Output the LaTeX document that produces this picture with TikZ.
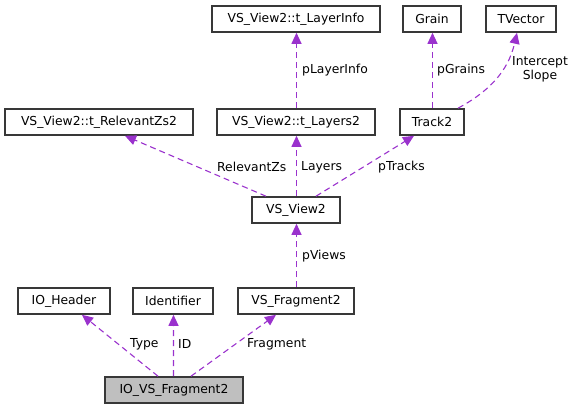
\documentclass[tikz,border=0pt]{standalone}
\usepackage{fontspec}
\setmainfont{DejaVu Sans}
\usetikzlibrary{arrows.meta}
\definecolor{edgec}{HTML}{9A32CD}
\definecolor{boxline}{HTML}{383838}
\definecolor{fillg}{HTML}{BFBFBF}
\begin{document}
\begin{tikzpicture}[x=1bp,y=-1bp,
  box/.style={draw=boxline,line width=1.6bp,rectangle,minimum height=26bp,inner sep=0pt,font=\fontsize{12.4}{14}\selectfont},
  rel/.style={draw=edgec,line width=1.1bp,dash pattern=on 6bp off 4bp,-{Triangle[length=11bp,width=10bp]}},
  lab/.style={anchor=west,inner sep=0pt,font=\fontsize{12.4}{14}\selectfont}]
\useasboundingbox (0,0) rectangle (575,409);
% row 1
\node[box,minimum width=168bp] (linfo) at (296,19) {VS\_View2::t\_LayerInfo};
\node[box,minimum width=58bp] (grain) at (432,19) {Grain};
\node[box,minimum width=70bp] (tvec) at (521,19) {TVector};
% row 2
\node[box,minimum width=188bp] (relz) at (99,122) {VS\_View2::t\_RelevantZs2};
\node[box,minimum width=158bp] (layers) at (296,122) {VS\_View2::t\_Layers2};
\node[box,minimum width=64bp] (track) at (432,122) {Track2};
% row 3
\node[box,minimum width=88bp] (view) at (296,210) {VS\_View2};
% row 4
\node[box,minimum width=92bp] (ioh) at (64,301) {IO\_Header};
\node[box,minimum width=80bp] (ident) at (173,301) {Identifier};
\node[box,minimum width=116bp] (frag) at (296,301) {VS\_Fragment2};
% row 5
\node[box,fill=fillg,minimum width=138bp] (iovs) at (174,390) {IO\_VS\_Fragment2};
% edges
\draw[rel] ([xshift=-16bp]iovs.north) -- ([xshift=18bp]ioh.south);
\draw[rel] ([xshift=-0.5bp]iovs.north) -- ([xshift=0.5bp]ident.south);
\draw[rel] ([xshift=17bp]iovs.north) -- ([xshift=-20bp]frag.south);
\draw[rel] ([xshift=0.5bp]frag.north) -- ([xshift=0.5bp]view.south);
\draw[rel] ([xshift=-30bp]view.north) -- ([xshift=26bp]relz.south);
\draw[rel] ([xshift=0.5bp]view.north) -- ([xshift=0.5bp]layers.south);
\draw[rel] ([xshift=20bp]view.north) -- ([xshift=-18bp]track.south);
\draw[rel] ([xshift=0.5bp]layers.north) -- ([xshift=0.5bp]linfo.south);
\draw[rel] ([xshift=0.5bp]track.north) -- ([xshift=0.5bp]grain.south);
\draw[rel] ([xshift=26bp]track.north) .. controls (488,92) and (508,72) .. ([xshift=-4bp]tvec.south);
% labels
\node[lab] (l1) at (302,70) {pLayerInfo};
\node[lab] (l2) at (437,70) {pGrains};
\node[inner sep=0pt,align=center,font=\fontsize{12.4}{14.5}\selectfont] (l3) at (540,69) {Intercept\\Slope};
\node[lab] (l4) at (217,167) {RelevantZs};
\node[lab] (l5) at (301,167) {Layers};
\node[lab] (l6) at (378,167) {pTracks};
\node[lab] (l7) at (302,256) {pViews};
\node[lab] (l8) at (130,344) {Type};
\node[lab] (l9) at (178,344) {ID};
\node[lab] (l10) at (247,344) {Fragment};
\end{tikzpicture}
\end{document}
